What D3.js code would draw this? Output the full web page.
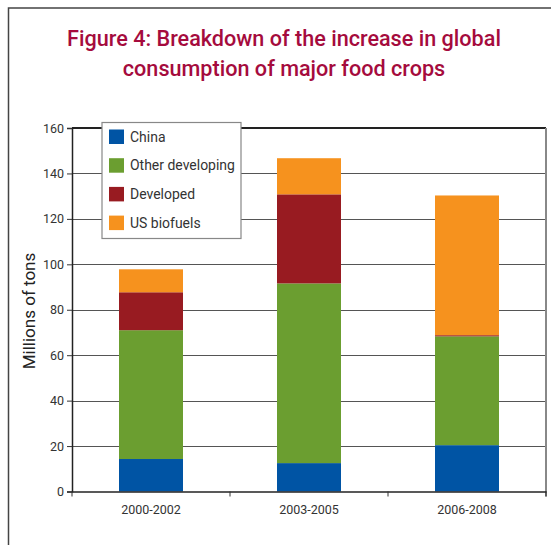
<!DOCTYPE html>
<html>
<head>
<meta charset="utf-8">
<script src="https://cdn.jsdelivr.net/npm/d3@7"></script>
<style>
  html, body { margin: 0; padding: 0; background: #fff; }
  svg { display: block; font-family: Roboto, "Noto Sans", sans-serif; }
</style>
</head>
<body>
<svg id="chart" width="551" height="545"></svg>
<script>
const categories = ["2000-2002", "2003-2005", "2006-2008"];
const seriesNames = ["China", "Other developing", "Developed", "US biofuels"];
const china = [14.3, 12.5, 20.4];
const otherDeveloping = [56.7, 79.1, 47.9];
const developed = [16.7, 39.2, 0.5];
const usBiofuels = [10.1, 15.9, 61.5];
const yTicks = [0, 20, 40, 60, 80, 100, 120, 140, 160];
const colors = ["#0054a4", "#6b9e30", "#981b21", "#f6921e"];
const titleLines = ["Figure 4: Breakdown of the increase in global", "consumption of major food crops"];

const svg = d3.select("#chart");
const W = 551, H = 545;
const plot = { left: 72, right: 546, top: 128, bottom: 491.5 };

const rows = categories.map((c, i) => ({
  cat: c,
  "China": china[i],
  "Other developing": otherDeveloping[i],
  "Developed": developed[i],
  "US biofuels": usBiofuels[i]
}));
const stacked = d3.stack().keys(seriesNames)(rows);

const x = d3.scaleBand().domain(categories).range([plot.left, plot.right])
  .paddingInner(0.595).paddingOuter(0.2975);
const y = d3.scaleLinear().domain([0, 160]).range([plot.bottom, plot.top]);
const color = d3.scaleOrdinal().domain(seriesNames).range(colors);

// outer frame
svg.append("path")
  .attr("d", `M8.5,${H} L8.5,8 L${W},8`)
  .attr("fill", "none").attr("stroke", "#444").attr("stroke-width", 1.5);

// title
const title = svg.append("g");
const t1 = title.append("text").attr("x", 284).attr("y", 45.5).attr("text-anchor", "middle")
  .attr("fill", "#a50b3d").attr("font-weight", 500).attr("font-size", 22).text(titleLines[0]);
const len1 = t1.node().getComputedTextLength();
const tSize = 22 * 434 / len1;
t1.attr("font-size", tSize);
title.append("text").attr("x", 284).attr("y", 76).attr("text-anchor", "middle")
  .attr("fill", "#a50b3d").attr("font-weight", 500).attr("font-size", tSize).text(titleLines[1]);

// gridlines
svg.append("g")
  .selectAll("line").data(yTicks.slice(1, -1)).join("line")
  .attr("x1", plot.left).attr("x2", plot.right)
  .attr("y1", d => Math.round(y(d)) + 0.5).attr("y2", d => Math.round(y(d)) + 0.5)
  .attr("stroke", "#555").attr("stroke-width", 1.2);

// plot border: top and right
svg.append("line").attr("x1", plot.left).attr("x2", plot.right)
  .attr("y1", y(160)).attr("y2", y(160)).attr("stroke", "#222").attr("stroke-width", 2);
svg.append("line").attr("x1", plot.right).attr("x2", plot.right)
  .attr("y1", y(160)).attr("y2", plot.bottom + 5).attr("stroke", "#888").attr("stroke-width", 2);

// bars
svg.append("g").selectAll("g").data(stacked).join("g")
  .attr("fill", d => color(d.key))
  .selectAll("rect").data(d => d).join("rect")
  .attr("x", d => x(d.data.cat))
  .attr("width", x.bandwidth())
  .attr("y", d => y(d[1]))
  .attr("height", d => y(d[0]) - y(d[1]));

// y axis
const yAxis = d3.axisLeft(y).tickValues(yTicks).tickSize(5).tickPadding(3).tickFormat(d3.format("d"));
const gy = svg.append("g").attr("transform", `translate(${plot.left},0)`).call(yAxis);
gy.select(".domain").attr("stroke", "#222").attr("stroke-width", 1.5);
gy.selectAll(".tick line").attr("stroke", "#333");
gy.selectAll(".tick text").attr("fill", "#333").attr("font-size", 12.5).attr("font-family", "Roboto, sans-serif");

// x axis
const xAxis = d3.axisBottom(x).tickSize(0).tickPadding(14);
const gx = svg.append("g").attr("transform", `translate(0,${plot.bottom})`).call(xAxis);
gx.select(".domain").attr("stroke", "#222").attr("stroke-width", 1.5);
gx.selectAll(".tick text").attr("fill", "#333").attr("font-size", 12.5).attr("font-family", "Roboto, sans-serif");
// category boundary ticks
const bounds = [plot.left, ...categories.slice(1).map(c => x(c) - x.step() * x.paddingInner() / 2), plot.right];
svg.append("g").selectAll("line").data(bounds).join("line")
  .attr("x1", d => d).attr("x2", d => d)
  .attr("y1", plot.bottom).attr("y2", plot.bottom + 5)
  .attr("stroke", "#333").attr("stroke-width", 1);

// y label
svg.append("text")
  .attr("transform", `translate(35,311) rotate(-90)`)
  .attr("text-anchor", "middle").attr("fill", "#222").attr("font-size", 17)
  .text("Millions of tons");

// legend
const lg = svg.append("g");
lg.append("rect").attr("x", 102).attr("y", 122.5).attr("width", 139).attr("height", 116)
  .attr("fill", "#fff").attr("stroke", "#888").attr("stroke-width", 1.2);
const items = lg.selectAll("g.item").data(seriesNames).join("g").attr("class", "item")
  .attr("transform", (d, i) => `translate(109,${129.5 + i * 28.7})`);
items.append("rect").attr("width", 15).attr("height", 14.5).attr("fill", d => color(d));
const lt = items.append("text").attr("x", 21).attr("y", 12).attr("fill", "#333")
  .attr("font-size", 13).text(d => d);
const ow = lt.filter(d => d === "Other developing").node().getComputedTextLength();
lt.attr("font-size", 13 * 105 / ow);
</script>
</body>
</html>
